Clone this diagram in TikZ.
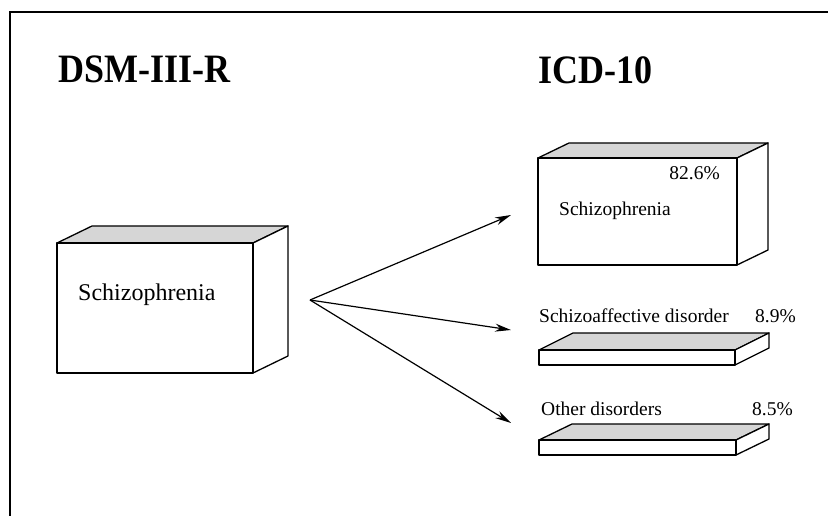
\documentclass[tikz,border=0pt]{standalone}
\usepackage{fontspec}
\setmainfont{Liberation Serif}
\usetikzlibrary{arrows.meta}
\newcommand\cuboidbox[6]{% x y w h dx dy
  \draw[boxline,fill=topgray] (#1,#2) -- ++(#5,#6) -- ++(#3,0) -- ++(-#5,-#6) -- cycle;
  \draw[boxline,fill=white] (#1+#3,#2) -- ++(#5,#6) -- ++(0,#4) -- ++(-#5,-#6) -- cycle;
  \draw[boxline,fill=white] (#1,#2) rectangle ++(#3,#4);
}
\definecolor{topgray}{gray}{0.84}
\begin{document}
\begin{tikzpicture}[x=1pt,y=-1pt,
  boxline/.style={line width=1.3pt,line join=round},
  title/.style={font=\bfseries\fontsize{36}{40}\selectfont,anchor=base west,inner sep=0pt},
  bigtext/.style={font=\fontsize{24}{28}\selectfont,anchor=base west,inner sep=0pt},
  smalltext/.style={font=\fontsize{19.5}{23}\selectfont,inner sep=0pt},
  arr/.style={line width=1.2pt,-{Stealth[length=16pt,width=8pt]}}]
\useasboundingbox (0,0) rectangle (828,516);
% frame (only left and top visible)
\draw[line width=1.4pt] (10,516) -- (10,12) -- (828,12);
% titles
\node[title] (dsm) at (58,83) {\scalebox{1}[1.12]{DSM-III-R}};
\node[title] (icd) at (538,84) {\scalebox{1}[1.12]{ICD-10}};
% left cuboid
\cuboidbox{57}{243}{196}{130}{35}{-17}
\node[bigtext] (lschiz) at (78,300) {Schizophrenia};
% right big cuboid
\cuboidbox{538}{158}{199}{107}{31}{-15}
\node[smalltext,anchor=base west] (rschiz) at (559,215) {Schizophrenia};
\node[smalltext,anchor=base east] (p1) at (720,179) {82.6\%};
% slab 1
\cuboidbox{539}{350}{196}{15}{34}{-17}
\node[smalltext,anchor=base west] (schaff) at (539,322) {Schizoaffective disorder};
\node[smalltext,anchor=base east] (p2) at (796,322) {8.9\%};
% slab 2
\cuboidbox{539}{440}{197}{15}{33}{-16}
\node[smalltext,anchor=base west] (other) at (541,415) {Other disorders};
\node[smalltext,anchor=base east] (p3) at (793,415) {8.5\%};
% arrows
\coordinate (src) at (310,300);
\coordinate (t1) at (511,215);
\coordinate (t2) at (511,330);
\coordinate (t3) at (511,423);
\draw[arr] (src) -- (t1);
\draw[arr] (src) -- (t2);
\draw[arr] (src) -- (t3);
\end{tikzpicture}
\end{document}
